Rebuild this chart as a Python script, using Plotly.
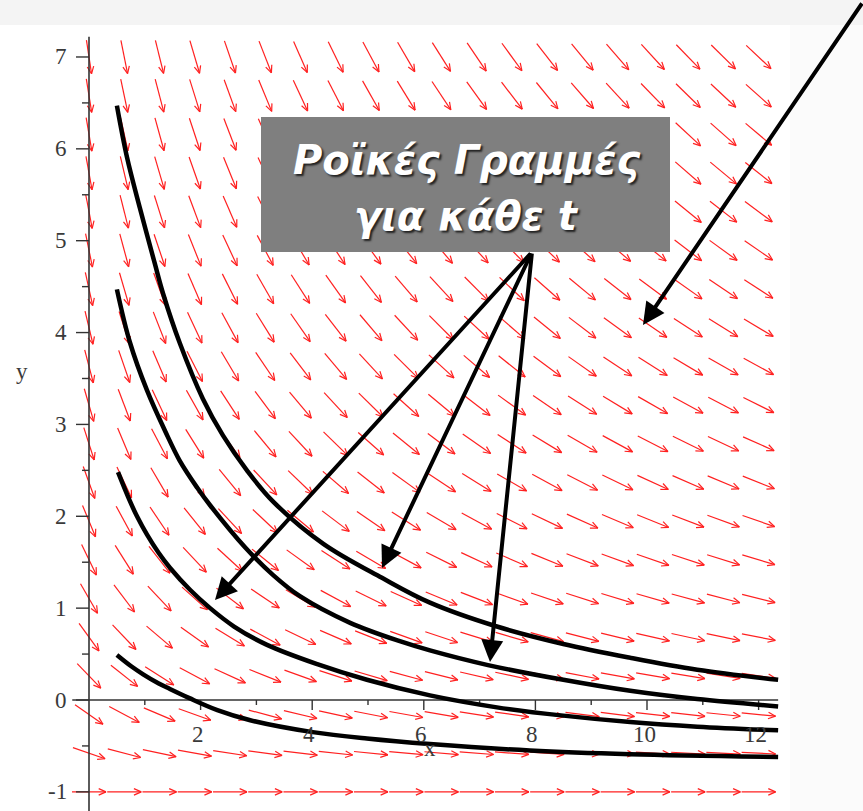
import numpy as np
import plotly.graph_objects as go

# ---- figure size and the data->pixel scale of the plotting frame ----
W, H = 863, 811
ORIGIN_PX = (89.0, 700.0)      # pixel position of (0, 0)
PX_PER_X = 55.8                # pixels per x unit
PX_PER_Y = 91.86               # pixels per y unit

# ---- direction field of the flow: dx/ds = x + 2, dy/ds = -(y + 1) ----
FIELD_X = (0.0, 12.0, 20)      # start, stop, number of columns
FIELD_Y = (-1.0, 7.0, 20)      # start, stop, number of rows
FIELD_U_SHIFT = 2.0
FIELD_V_SHIFT = 1.0

# ---- streamlines (x, y samples) ----
line1_x = [0.50, 0.68, 0.91, 1.18, 1.33, 1.63, 2.04, 2.40, 2.83, 3.30, 4.20, 5.25, 6.11, 7.31, 8.50, 9.70, 10.90, 12.35]
line1_y = [6.47, 5.91, 5.36, 4.75, 4.42, 3.88, 3.28, 2.88, 2.50, 2.16, 1.70, 1.33, 1.06, 0.80, 0.61, 0.46, 0.33, 0.22]

line2_x = [0.50, 0.73, 1.04, 1.37, 1.63, 1.94, 2.17, 2.80, 3.30, 3.78, 4.68, 5.57, 6.11, 7.15, 8.50, 9.70, 10.90, 12.35]
line2_y = [4.47, 3.90, 3.37, 2.92, 2.60, 2.31, 2.12, 1.66, 1.36, 1.13, 0.84, 0.64, 0.54, 0.38, 0.22, 0.10, 0.01, -0.07]

line3_x = [0.52, 0.73, 0.86, 1.04, 1.25, 1.45, 1.81, 2.17, 2.60, 3.19, 4.09, 4.98, 6.11, 7.31, 8.50, 9.70, 10.90, 12.35]
line3_y = [2.48, 2.17, 2.00, 1.80, 1.60, 1.44, 1.20, 1.00, 0.80, 0.60, 0.39, 0.22, 0.05, -0.08, -0.17, -0.24, -0.29, -0.33]

line4_x = [0.50, 0.75, 0.97, 1.25, 1.45, 1.80, 2.30, 2.89, 4.01, 4.98, 6.11, 7.90, 9.70, 12.35]
line4_y = [0.49, 0.37, 0.28, 0.18, 0.12, 0.02, -0.11, -0.22, -0.35, -0.42, -0.48, -0.55, -0.59, -0.62]

streamlines = [(line1_x, line1_y), (line2_x, line2_y), (line3_x, line3_y), (line4_x, line4_y)]

# ---- axes ----
x_ticks_major = [2, 4, 6, 8, 10, 12]
x_ticks_minor = [1, 3, 5, 7, 9, 11]
x_tick_labels = ["2", "4", "6", "8", "10", "12"]
y_ticks_major = [-1, 0, 1, 2, 3, 4, 5, 6, 7]
y_ticks_minor = [-0.5, 0.5, 1.5, 2.5, 3.5, 4.5, 5.5, 6.5]
y_tick_labels = ["-1", "0", "1", "2", "3", "4", "5", "6", "7"]

# ---- callout ----
callout_lines = ["Ροϊκές Γραμμές", "για κάθε t"]

x_range = [-ORIGIN_PX[0] / PX_PER_X, (W - ORIGIN_PX[0]) / PX_PER_X]
y_range = [(ORIGIN_PX[1] - H) / PX_PER_Y, ORIGIN_PX[1] / PX_PER_Y]


def px_to_paper(px, py):
    return px / W, 1 - py / H


fig = go.Figure()

# direction-field arrows, fixed pixel length, built in screen space
ARROW_LEN = 34.0
BARB_LEN = 8.0
BARB_ANG = np.radians(24)
ax_list, ay_list = [], []
for gx in np.linspace(*FIELD_X):
    for gy in np.linspace(*FIELD_Y):
        u = gx + FIELD_U_SHIFT
        v = -(gy + FIELD_V_SHIFT)
        dx, dy = u * PX_PER_X, v * PX_PER_Y
        n = np.hypot(dx, dy)
        if n == 0:
            continue
        dx, dy = dx / n, dy / n
        sx, sy = -dx * ARROW_LEN / 2, -dy * ARROW_LEN / 2
        ex, ey = dx * ARROW_LEN / 2, dy * ARROW_LEN / 2
        pts = [(sx, sy), (ex, ey), None]
        ang = np.arctan2(dy, dx)
        for s in (1, -1):
            a = ang + np.pi + s * BARB_ANG
            pts += [(ex, ey), (ex + BARB_LEN * np.cos(a), ey + BARB_LEN * np.sin(a)), None]
        for p in pts:
            if p is None:
                ax_list.append(None)
                ay_list.append(None)
            else:
                ax_list.append(gx + p[0] / PX_PER_X)
                ay_list.append(gy + p[1] / PX_PER_Y)

fig.add_trace(go.Scatter(x=ax_list, y=ay_list, mode="lines",
                         line=dict(color="#ff2020", width=1.2),
                         hoverinfo="skip", showlegend=False))

# axis lines
fig.add_trace(go.Scatter(x=[0, 0], y=[7.22, y_range[0]], mode="lines",
                         line=dict(color="#333333", width=1.6), showlegend=False, hoverinfo="skip"))
fig.add_trace(go.Scatter(x=[-0.3, 12.35], y=[0, 0], mode="lines",
                         line=dict(color="#333333", width=1.6), showlegend=False, hoverinfo="skip"))

# tick marks
tx, ty = [], []
for t in y_ticks_major:
    tx += [-13 / PX_PER_X, 0, None]; ty += [t, t, None]
for t in y_ticks_minor:
    tx += [-7 / PX_PER_X, 0, None]; ty += [t, t, None]
for t in x_ticks_major:
    tx += [t, t, None]; ty += [0, -10 / PX_PER_Y, None]
for t in x_ticks_minor:
    tx += [t, t, None]; ty += [0, -5 / PX_PER_Y, None]
fig.add_trace(go.Scatter(x=tx, y=ty, mode="lines", line=dict(color="#333333", width=1.4),
                         showlegend=False, hoverinfo="skip"))

# streamlines
for sx_, sy_ in streamlines:
    fig.add_trace(go.Scatter(x=sx_, y=sy_, mode="lines",
                             line=dict(color="black", width=4.5, shape="spline", smoothing=1.0),
                             showlegend=False, hoverinfo="skip"))

annotations = []
tick_font = dict(family="Liberation Serif, Times New Roman, serif", size=23, color="#3a3a3a")
for t, lab in zip(y_ticks_major, y_tick_labels):
    annotations.append(dict(x=-20 / PX_PER_X, y=t, xref="x", yref="y", text=lab, showarrow=False,
                            xanchor="right", yanchor="middle", font=tick_font))
for t, lab in zip(x_ticks_major, x_tick_labels):
    annotations.append(dict(x=t - 3 / PX_PER_X, y=-34 / PX_PER_Y, xref="x", yref="y", text=lab,
                            showarrow=False, xanchor="center", yanchor="middle", font=tick_font))
annotations.append(dict(x=430 / W, y=1 - 763 / H, xref="paper", yref="paper", text="x",
                        showarrow=False, font=tick_font))
annotations.append(dict(x=14 / W, y=1 - 372 / H, xref="paper", yref="paper", text="y",
                        showarrow=False, font=tick_font))

# callout text
for i, txt in enumerate(callout_lines):
    cx, cy = px_to_paper(466, 160 + i * 56)
    annotations.append(dict(x=cx, y=cy, xref="paper", yref="paper",
                            text="<b><i>" + txt + "</i></b>", showarrow=False,
                            xanchor="center", yanchor="middle",
                            font=dict(family="DejaVu Sans, Verdana, sans-serif", size=40,
                                      color="white", shadow="2px 2px 2px #222222")))

# pointer arrows (tip, tail) in pixels
pointers = [((643, 325), (870, 2)), ((215, 600), (532, 252)),
            ((382, 568), (532, 252)), ((490, 662), (532, 252))]
for (tpx, tpy), (lpx, lpy) in pointers:
    px_, py_ = px_to_paper(tpx, tpy)
    annotations.append(dict(x=px_, y=py_, xref="paper", yref="paper", ax=lpx - tpx, ay=lpy - tpy,
                            axref="pixel", ayref="pixel", text="", showarrow=True,
                            arrowhead=2, arrowsize=1.1, arrowwidth=4, arrowcolor="black"))

shapes = [
    dict(type="rect", xref="paper", yref="paper", x0=0, x1=1, y0=1 - 25 / H, y1=1,
         fillcolor="#f4f4f4", line=dict(width=0), layer="below"),
    dict(type="rect", xref="paper", yref="paper", x0=790 / W, x1=1, y0=0, y1=1 - 25 / H,
         fillcolor="#fbfbfb", line=dict(width=0), layer="below"),
    dict(type="rect", xref="paper", yref="paper", x0=261 / W, x1=670 / W,
         y0=1 - 252 / H, y1=1 - 117 / H, fillcolor="#7f7f7f", line=dict(width=0), layer="above"),
]

fig.update_layout(
    width=W, height=H, margin=dict(l=0, r=0, t=0, b=0),
    paper_bgcolor="white", plot_bgcolor="rgba(0,0,0,0)",
    xaxis=dict(range=x_range, visible=False, fixedrange=True),
    yaxis=dict(range=y_range, visible=False, fixedrange=True),
    shapes=shapes, annotations=annotations, showlegend=False,
)

fig.write_html("out.html")
